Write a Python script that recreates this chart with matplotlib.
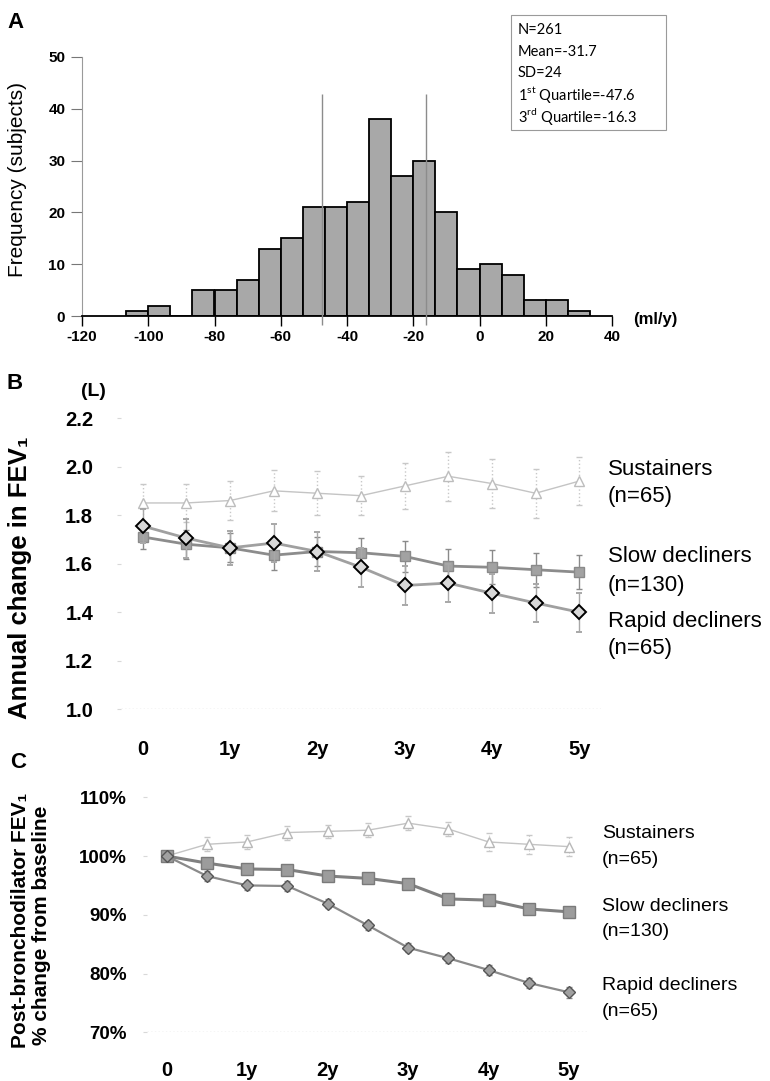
import numpy as np
import matplotlib
matplotlib.use('Agg')
import matplotlib.pyplot as plt
from matplotlib import font_manager
from matplotlib.patches import Rectangle

# ---- data ----
hist_counts = [1, 2, 0, 5, 5, 7, 13, 15, 21, 21, 22, 38, 27, 30, 20, 9, 10, 8, 3, 3, 1]
bin_first = -320 / 3
bin_width = 20 / 3
quartiles = [-47.6, -16.3]
stats_lines = ['N=261', 'Mean=-31.7', 'SD=24',
               '1$^{\\mathrm{st}}$ Quartile=-47.6', '3$^{\\mathrm{rd}}$ Quartile=-16.3']

years = [0, 0.5, 1, 1.5, 2, 2.5, 3, 3.5, 4, 4.5, 5]
year_ticks = [0, 1, 2, 3, 4, 5]
year_labels = ['0', '1y', '2y', '3y', '4y', '5y']

sus_B = [1.85, 1.85, 1.86, 1.90, 1.89, 1.88, 1.92, 1.96, 1.93, 1.89, 1.94]
sus_B_err = [0.08, 0.08, 0.08, 0.085, 0.09, 0.08, 0.095, 0.10, 0.10, 0.10, 0.10]
slow_B = [1.71, 1.68, 1.665, 1.635, 1.65, 1.645, 1.63, 1.59, 1.585, 1.575, 1.565]
slow_B_err = [0.05, 0.06, 0.06, 0.06, 0.06, 0.06, 0.065, 0.07, 0.07, 0.07, 0.07]
rapid_B = [1.755, 1.705, 1.665, 1.685, 1.65, 1.585, 1.51, 1.52, 1.478, 1.438, 1.40]
rapid_B_err = [0.07, 0.08, 0.07, 0.08, 0.08, 0.08, 0.08, 0.08, 0.08, 0.08, 0.08]

sus_C = [100, 102.0, 102.4, 104.0, 104.2, 104.4, 105.6, 104.6, 102.4, 102.0, 101.6]
sus_C_err = [0, 1.2, 1.2, 1.2, 1.1, 1.2, 1.2, 1.2, 1.6, 1.6, 1.6]
slow_C = [100, 98.8, 97.8, 97.7, 96.6, 96.2, 95.3, 92.7, 92.5, 91.0, 90.5]
slow_C_err = [0, 0.7, 0.6, 0.8, 0.6, 0.6, 0.6, 0.8, 0.6, 0.6, 0.6]
rapid_C = [100, 96.6, 95.0, 94.9, 91.9, 88.2, 84.4, 82.6, 80.6, 78.4, 76.8]
rapid_C_err = [0, 0.8, 0.8, 0.8, 0.8, 0.8, 0.8, 0.8, 0.9, 0.9, 0.9]

group_names = ['Sustainers', 'Slow decliners', 'Rapid decliners']
group_n = ['(n=65)', '(n=130)', '(n=65)']

# ---- fonts ----
names = {f.name for f in font_manager.fontManager.ttflist}
narrow = 'Liberation Sans Narrow' if 'Liberation Sans Narrow' in names else 'Liberation Sans'
plt.rcParams['font.family'] = ['Liberation Sans', 'DejaVu Sans']
plt.rcParams['mathtext.fontset'] = 'custom'
plt.rcParams['mathtext.rm'] = 'Lato'
plt.rcParams['axes.unicode_minus'] = False

W, H = 770, 1081
fig = plt.figure(figsize=(W / 100, H / 100), dpi=100)


def fx(px):
    return px / W


def fy(py):
    return 1 - py / H


# ================= panel A =================
axA = fig.add_axes([fx(82), fy(316), fx(612 - 82), (316 - 57) / H])
edges = bin_first + bin_width * np.arange(len(hist_counts))
axA.bar(edges, hist_counts, width=bin_width, align='edge', color='#a8a8a8',
        edgecolor='black', linewidth=1.3, zorder=2)
axA.vlines(quartiles, -1.8, 42.8, color='#8c8c8c', lw=1, zorder=3, clip_on=False)
axA.set_xlim(-120, 40)
axA.set_ylim(0, 50)
for s in ['top', 'right']:
    axA.spines[s].set_visible(False)
axA.spines['left'].set_color('#9a9a9a')
axA.spines['left'].set_linewidth(0.8)
axA.spines['bottom'].set_linewidth(1.3)
axA.set_xticks(range(-120, 41, 20))
axA.set_yticks(range(0, 51, 10))
axA.tick_params(axis='x', length=7, width=1, pad=3, labelsize=11)
axA.tick_params(axis='y', length=8, width=0.8, color='#777777', pad=4, labelsize=11)
for lab in axA.get_xticklabels() + axA.get_yticklabels():
    lab.set_fontfamily(narrow)
    lab.set_fontweight('bold')
fig.text(fx(18), fy(180), 'Frequency (subjects)', rotation=90, ha='center', va='center',
         fontsize=15)
fig.text(fx(655), fy(320), '(ml/y)', ha='center', va='center', fontsize=12,
         fontweight='bold', family=narrow)
fig.text(fx(16), fy(23), 'A', ha='center', va='center', fontsize=16, fontweight='bold')

fig.patches.append(Rectangle((fx(511), fy(130)), fx(666 - 511), (130 - 15) / H,
                             transform=fig.transFigure, fill=False, ec='#9a9a9a', lw=0.8))
for i, line in enumerate(stats_lines):
    fig.text(fx(518), fy(30 + 21.6 * i), line, ha='left', va='center', fontsize=10.5,
             family='Lato')

# ================= panel B =================
axB = fig.add_axes([fx(121), fy(709.3), fx(601 - 121), (709.3 - 418) / H])
eb = axB.errorbar(years, sus_B, yerr=sus_B_err, color='#c4c4c4', lw=1, marker='^', ms=6.5,
                  mfc='white', mec='#bdbdbd', mew=1, ecolor='#c8c8c8', elinewidth=1,
                  capsize=2, zorder=2)
eb[2][0].set_linestyle(':')
axB.errorbar(years, slow_B, yerr=slow_B_err, color='#8c8c8c', lw=2, marker='s', ms=7,
             mfc='#a2a2a2', mec='#8a8a8a', mew=1, ecolor='#8a8a8a', elinewidth=1,
             capsize=2.5, zorder=3)
axB.errorbar(years, rapid_B, yerr=rapid_B_err, color='#a0a0a0', lw=2, marker='D', ms=7,
             mfc='#d8d8d8', mec='black', mew=1.4, ecolor='#a8a8a8', elinewidth=1,
             capsize=2.5, zorder=4)
axB.axhline(1.0, color='#cfcfcf', lw=1, ls=':', zorder=1)
axB.set_xlim(-0.25, 5.25)
axB.set_ylim(1.0, 2.2)
for s in ['top', 'right', 'bottom', 'left']:
    axB.spines[s].set_visible(False)
axB.set_yticks([1.0, 1.2, 1.4, 1.6, 1.8, 2.0, 2.2])
axB.set_yticklabels(['1.0', '1.2', '1.4', '1.6', '1.8', '2.0', '2.2'])
axB.set_xticks(year_ticks)
axB.set_xticklabels(year_labels)
axB.tick_params(axis='y', length=3, color='#d8d8d8', pad=17, labelsize=14.5)
axB.tick_params(axis='x', length=0, pad=22, labelsize=14.5)
for lab in axB.get_xticklabels() + axB.get_yticklabels():
    lab.set_fontweight('bold')
fig.text(fx(20), fy(578), 'Annual change in FEV₁', rotation=90, ha='center', va='center',
         fontsize=18.5, fontweight='bold')
fig.text(fx(93), fy(392), '(L)', ha='center', va='center', fontsize=14, fontweight='bold')
fig.text(fx(15), fy(384), 'B', ha='center', va='center', fontsize=16, fontweight='bold',
         family=narrow)
for name, n, y1, y2 in zip(group_names, group_n, [470, 556.7, 621.7], [496.7, 585, 648.3]):
    fig.text(fx(608), fy(y1), name, ha='left', va='center', fontsize=16)
    fig.text(fx(608), fy(y2), n, ha='left', va='center', fontsize=16)

# ================= panel C =================
axC = fig.add_axes([fx(146.6), fy(1032.3), fx(589.2 - 146.6), (1032.3 - 797.3) / H])
eb = axC.errorbar(years, sus_C, yerr=sus_C_err, color='#c4c4c4', lw=1, marker='^', ms=7,
                  mfc='white', mec='#b8b8b8', mew=1, ecolor='#c8c8c8', elinewidth=0.8,
                  capsize=2, zorder=2)
eb[2][0].set_linestyle(':')
axC.errorbar(years, slow_C, yerr=slow_C_err, color='#808080', lw=2.2, marker='s', ms=8.5,
             mfc='#9c9c9c', mec='#7a7a7a', mew=1, ecolor='#555555', elinewidth=0.8,
             capsize=2, zorder=3)
axC.errorbar(years, rapid_C, yerr=rapid_C_err, color='#8a8a8a', lw=1.6, marker='D', ms=6,
             mfc='#a0a0a0', mec='#555555', mew=1, ecolor='#8a8a8a', elinewidth=0.8,
             capsize=2, zorder=4)
axC.axhline(70, color='#cfcfcf', lw=1, ls=':', zorder=1)
axC.set_xlim(-0.25, 5.25)
axC.set_ylim(70, 110)
for s in ['top', 'right', 'bottom', 'left']:
    axC.spines[s].set_visible(False)
axC.set_yticks([70, 80, 90, 100, 110])
axC.set_yticklabels(['70%', '80%', '90%', '100%', '110%'])
axC.set_xticks(year_ticks)
axC.set_xticklabels(year_labels)
axC.tick_params(axis='y', length=3, color='#d8d8d8', pad=11, labelsize=13.5)
axC.tick_params(axis='x', length=0, pad=21, labelsize=14.5)
for lab in axC.get_xticklabels() + axC.get_yticklabels():
    lab.set_fontweight('bold')
fig.text(fx(21), fy(920), 'Post-bronchodilator FEV₁', rotation=90, ha='center',
         va='center', fontsize=15, fontweight='bold')
fig.text(fx(42), fy(925), '% change from baseline', rotation=90, ha='center',
         va='center', fontsize=15, fontweight='bold')
fig.text(fx(18), fy(763), 'C', ha='center', va='center', fontsize=16, fontweight='bold',
         family=narrow)
for name, n, y1, y2 in zip(group_names, group_n, [833.3, 906.7, 985.7], [859.3, 931.7, 1011.7]):
    fig.text(fx(602), fy(y1), name, ha='left', va='center', fontsize=14)
    fig.text(fx(602), fy(y2), n, ha='left', va='center', fontsize=14)

fig.savefig('out.png', dpi=100)
